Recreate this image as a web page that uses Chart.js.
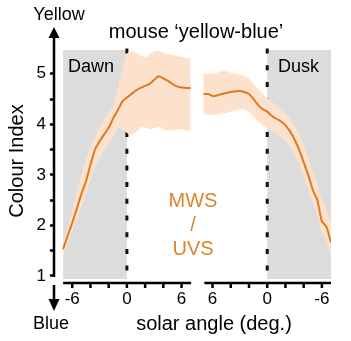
<!DOCTYPE html>
<html>
<head>
<meta charset="utf-8">
<script src="https://cdn.jsdelivr.net/npm/chart.js@4.4.1/dist/chart.umd.min.js"></script>
<style>
  html, body { margin: 0; padding: 0; background: #fff; }
</style>
</head>
<body>
<canvas id="chart" width="351" height="341"></canvas>
<script>
// solar angle (deg.)
const dawnAngles = [-7, -6.5, -6, -5.5, -5, -4.5, -4, -3.5, -3, -2.5, -2, -1.5, -1, -0.5, 0, 0.5, 1, 1.5, 2, 2.5, 3, 3.5, 4, 4.5, 5, 5.5, 6, 6.5, 7];
const dawnMean = [1.53, 1.8, 2.05, 2.33, 2.62, 2.87, 3.2, 3.5, 3.66, 3.8, 3.93, 4.12, 4.28, 4.45, 4.53, 4.6, 4.67, 4.72, 4.76, 4.8, 4.88, 4.95, 4.91, 4.86, 4.8, 4.75, 4.73, 4.72, 4.72];
const dawnLow = [1.42, 1.68, 1.9, 2.12, 2.38, 2.6, 2.88, 3.15, 3.33, 3.48, 3.62, 3.76, 3.92, 3.9, 3.83, 3.78, 3.85, 3.95, 3.93, 3.9, 3.92, 3.95, 3.9, 3.88, 3.88, 3.9, 3.9, 3.88, 3.88];
const dawnHigh = [1.62, 1.95, 2.3, 2.65, 3.0, 3.3, 3.55, 3.75, 3.95, 4.1, 4.25, 4.35, 4.7, 5.1, 5.4, 5.45, 5.42, 5.36, 5.32, 5.38, 5.45, 5.45, 5.42, 5.38, 5.37, 5.35, 5.33, 5.31, 5.3];

const duskAngles = [7, 6.5, 6, 5.5, 5, 4.5, 4, 3.5, 3, 2.5, 2, 1.5, 1, 0.5, 0, -0.5, -1, -1.5, -2, -2.5, -3, -3.5, -4, -4.5, -5, -5.5, -6, -6.5, -7];
const duskMean = [4.6, 4.6, 4.56, 4.57, 4.6, 4.62, 4.64, 4.65, 4.66, 4.64, 4.6, 4.5, 4.38, 4.3, 4.25, 4.17, 4.11, 4.06, 3.98, 3.86, 3.7, 3.5, 3.25, 3.0, 2.7, 2.5, 2.08, 1.97, 1.66];
const duskLow = [4.2, 4.2, 4.18, 4.2, 4.22, 4.22, 4.25, 4.28, 4.3, 4.3, 4.25, 4.15, 4.05, 3.98, 3.92, 3.87, 3.82, 3.75, 3.66, 3.55, 3.4, 3.22, 2.98, 2.72, 2.45, 2.2, 1.85, 1.7, 1.38];
const duskHigh = [5.0, 5.0, 5.0, 5.02, 5.05, 5.05, 5.02, 5.0, 4.98, 4.95, 4.9, 4.8, 4.7, 4.6, 4.52, 4.45, 4.38, 4.3, 4.22, 4.12, 3.98, 3.8, 3.58, 3.33, 3.05, 2.8, 2.5, 2.32, 2.05];

const yTickValues = [1, 1.5, 2, 2.5, 3, 3.5, 4, 4.5, 5];
const xTickValues = [-6, -4, -2, 0, 2, 4, 6];
const xTickLabels = [-6, 0, 6];

// both panels share one linear x scale; the dusk panel sits to the right, reversed
const DUSK_SHIFT = 15.4;
const dawnX = a => a;
const duskX = a => DUSK_SHIFT - a;

const LINE = '#e07a22';
const BAND = '#fce2cd';
const FONT = '"Liberation Sans", Arial, sans-serif';

const pts = (angles, vals, map) => angles.map((a, i) => ({ x: map(a), y: vals[i] }));

const bandHigh = (data) => ({ data, fill: '+1', backgroundColor: BAND, borderWidth: 0, pointRadius: 0 });
const bandLow = (data) => ({ data, fill: false, borderWidth: 0, pointRadius: 0 });
const meanLine = (data) => ({ data, fill: false, borderColor: LINE, borderWidth: 2, pointRadius: 0, tension: 0.2 });

const decor = {
	id: 'decor',
	beforeDatasetsDraw(chart) {
		const { ctx, chartArea: a, scales: { x, y } } = chart;
		const top = y.getPixelForValue(5.47), bot = y.getPixelForValue(0.94);
		ctx.save();
		ctx.fillStyle = '#dcdcdc';
		let l = x.getPixelForValue(dawnX(-7)), r = x.getPixelForValue(dawnX(0));
		ctx.fillRect(l, top, r - l, bot - top);
		l = x.getPixelForValue(duskX(0)); r = x.getPixelForValue(duskX(-7));
		ctx.fillRect(l, top, r - l, bot - top);

		ctx.strokeStyle = '#111';
		ctx.lineWidth = 3;
		ctx.setLineDash([5, 11.7]);
		[x.getPixelForValue(dawnX(0)), x.getPixelForValue(duskX(0))].forEach(px => {
			ctx.beginPath();
			ctx.moveTo(px, a.top);
			ctx.lineTo(px, a.bottom + 2);
			ctx.stroke();
		});
		ctx.restore();
	},
	afterDraw(chart) {
		const { ctx, chartArea: a, scales: { x, y } } = chart;
		const axisY = a.bottom + 2;
		const ax = a.left;
		ctx.save();
		ctx.strokeStyle = '#000';
		ctx.fillStyle = '#000';
		ctx.lineWidth = 2.5;

		// x axis, one piece per panel
		[[dawnX, -7, 7.05], [duskX, 6.9, -7]].forEach(([map, from, to]) => {
			ctx.beginPath();
			ctx.moveTo(x.getPixelForValue(map(from)), axisY);
			ctx.lineTo(x.getPixelForValue(map(to)), axisY);
			ctx.stroke();
			xTickValues.forEach(t => {
				const px = x.getPixelForValue(map(t));
				ctx.beginPath();
				ctx.moveTo(px, axisY);
				ctx.lineTo(px, axisY + 5);
				ctx.stroke();
			});
			ctx.font = '17px ' + FONT;
			ctx.textAlign = 'center';
			ctx.textBaseline = 'middle';
			xTickLabels.forEach(t => ctx.fillText(String(t), x.getPixelForValue(map(t)), axisY + 16));
		});

		// y axis with arrows
		ctx.beginPath();
		ctx.moveTo(ax, y.getPixelForValue(1) + 1);
		ctx.lineTo(ax, 36);
		ctx.stroke();
		ctx.beginPath();
		ctx.moveTo(ax, 27); ctx.lineTo(ax - 5.5, 38); ctx.lineTo(ax + 5.5, 38);
		ctx.closePath(); ctx.fill();
		ctx.beginPath();
		ctx.moveTo(ax, axisY + 2);
		ctx.lineTo(ax, 300);
		ctx.stroke();
		ctx.beginPath();
		ctx.moveTo(ax - 5.5, 299); ctx.lineTo(ax + 5.5, 299); ctx.lineTo(ax, 311);
		ctx.closePath(); ctx.fill();

		// texts
		ctx.textBaseline = 'alphabetic';
		ctx.textAlign = 'center';
		ctx.font = '18px ' + FONT;
		ctx.fillText('Yellow', 59, 20);
		ctx.fillText('Blue', 51, 329);
		ctx.font = '20px ' + FONT;
		ctx.fillText('mouse \u2018yellow-blue\u2019', 196, 38);
		ctx.fillText('solar angle (deg.)', 214, 330);
		ctx.save();
		ctx.translate(17, 161);
		ctx.rotate(-Math.PI / 2);
		ctx.textBaseline = 'middle';
		ctx.fillText('Colour Index', 0, 0);
		ctx.restore();

		ctx.textAlign = 'left';
		ctx.font = '18px ' + FONT;
		ctx.fillText('Dawn', 68, 72);
		ctx.fillText('Dusk', 278, 72);

		ctx.textAlign = 'center';
		ctx.fillStyle = '#dc8430';
		ctx.font = '20px ' + FONT;
		ctx.fillText('MWS', 193, 207);
		ctx.fillText('/', 193, 231);
		ctx.fillText('UVS', 193, 255);
		ctx.restore();
	}
};

new Chart(document.getElementById('chart'), {
	type: 'line',
	data: {
		datasets: [
			meanLine(pts(dawnAngles, dawnMean, dawnX)),
			meanLine(pts(duskAngles, duskMean, duskX)),
			bandHigh(pts(dawnAngles, dawnHigh, dawnX)),
			bandLow(pts(dawnAngles, dawnLow, dawnX)),
			bandHigh(pts(duskAngles, duskHigh, duskX)),
			bandLow(pts(duskAngles, duskLow, duskX))
		]
	},
	options: {
		responsive: false,
		animation: false,
		layout: { padding: { top: 48.5, right: 20, bottom: 60, left: 0 } },
		plugins: { legend: { display: false }, tooltip: { enabled: false } },
		scales: {
			x: { type: 'linear', min: -8, max: 22.4, display: false },
			y: {
				min: 0.9,
				max: 5.5,
				afterFit: s => { s.width = 54; },
				afterBuildTicks: s => { s.ticks = yTickValues.map(v => ({ value: v })); },
				border: { display: false },
				grid: { drawOnChartArea: false, tickLength: 4, tickWidth: 2.5, tickColor: '#000' },
				ticks: {
					padding: 4,
					color: '#000',
					font: { size: 17, family: FONT },
					callback: v => Number.isInteger(v) ? String(v) : ''
				}
			}
		}
	},
	plugins: [decor]
});
</script>
</body>
</html>
